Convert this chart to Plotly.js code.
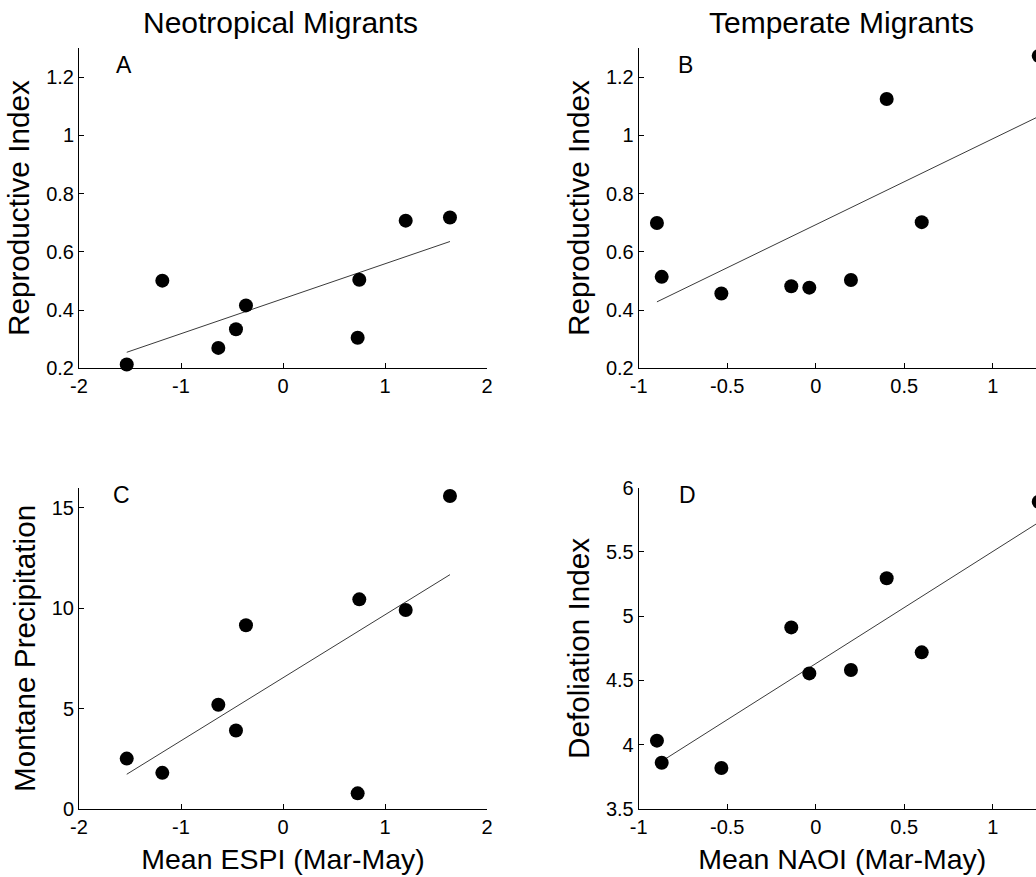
<!DOCTYPE html>
<html>
<head>
<meta charset="utf-8">
<script src="https://cdn.plot.ly/plotly-3.0.1.min.js"></script>
<style>
html,body{margin:0;padding:0;background:#fff;overflow:hidden;}
#wrap{width:1036px;height:877px;overflow:hidden;}
#plot{width:1060px;height:877px;}
</style>
</head>
<body>
<div id="wrap"><div id="plot"></div></div>
<script>
// ---- Data ----
const espi = [-1.532, -1.183, -0.634, -0.461, -0.363, 0.732, 0.748, 1.203, 1.637];
const neoRepro = [0.213, 0.501, 0.270, 0.334, 0.416, 0.305, 0.504, 0.707, 0.718];
const neoPrecip = [2.51, 1.80, 5.19, 3.91, 9.15, 0.78, 10.44, 9.91, 15.59];

const naoi = [-0.897, -0.870, -0.533, -0.138, -0.036, 0.199, 0.401, 0.599, 1.26];
const tempRepro = [0.699, 0.514, 0.457, 0.482, 0.477, 0.503, 1.125, 0.702, 1.273];
const defol = [4.032, 3.860, 3.819, 4.913, 4.555, 4.581, 5.295, 4.719, 5.891];

const espiTicks = [-2, -1, 0, 1, 2];
const espiTickText = ["-2", "-1", "0", "1", "2"];
const naoiTicks = [-1, -0.5, 0, 0.5, 1];
const naoiTickText = ["-1", "-0.5", "0", "0.5", "1"];
const reproTicks = [0.2, 0.4, 0.6, 0.8, 1, 1.2];
const reproTickText = ["0.2", "0.4", "0.6", "0.8", "1", "1.2"];
const precipTicks = [0, 5, 10, 15];
const precipTickText = ["0", "5", "10", "15"];
const defolTicks = [3.5, 4, 4.5, 5, 5.5, 6];
const defolTickText = ["3.5", "4", "4.5", "5", "5.5", "6"];

// ---- helpers ----
function fit(x, y) {
  const n = x.length;
  const mx = x.reduce((a, b) => a + b, 0) / n;
  const my = y.reduce((a, b) => a + b, 0) / n;
  let sxy = 0, sxx = 0;
  for (let i = 0; i < n; i++) { sxy += (x[i] - mx) * (y[i] - my); sxx += (x[i] - mx) ** 2; }
  const b = sxy / sxx, a = my - b * mx;
  const x0 = Math.min(...x), x1 = Math.max(...x);
  return { x: [x0, x1], y: [a + b * x0, a + b * x1] };
}
function pts(x, y, xa, ya) {
  return { x: x, y: y, xaxis: xa, yaxis: ya, type: 'scatter', mode: 'markers',
    marker: { color: '#000', size: 14, symbol: 'circle', line: { width: 0 } },
    cliponaxis: false, hoverinfo: 'skip', showlegend: false };
}
function line(x, y, xa, ya) {
  const f = fit(x, y);
  return { x: f.x, y: f.y, xaxis: xa, yaxis: ya, type: 'scatter', mode: 'lines',
    line: { color: '#3a3a3a', width: 1 }, hoverinfo: 'skip', showlegend: false };
}

const data = [
  line(espi, neoRepro, 'x', 'y'), pts(espi, neoRepro, 'x', 'y'),
  line(naoi, tempRepro, 'x2', 'y2'), pts(naoi, tempRepro, 'x2', 'y2'),
  line(espi, neoPrecip, 'x3', 'y3'), pts(espi, neoPrecip, 'x3', 'y3'),
  line(naoi, defol, 'x4', 'y4'), pts(naoi, defol, 'x4', 'y4')
];

const W = 1060, H = 877;
const FONT = 'Liberation Sans, Arial, Helvetica, sans-serif';
function ax(domain, range, tv, tt, anchor, title, tsize, standoff) {
  const o = {
    domain: domain, range: range, anchor: anchor,
    showline: true, linecolor: '#000', linewidth: 1, mirror: false,
    ticks: 'inside', ticklen: 5, tickwidth: 1, tickcolor: '#000',
    tickmode: 'array', tickvals: tv, ticktext: tt,
    showgrid: false, zeroline: false, fixedrange: true,
    tickfont: { family: FONT, size: 20, color: '#000' }
  };
  if (title) o.title = { text: title, font: { family: FONT, size: tsize, color: '#000' }, standoff: standoff };
  return o;
}
const xL = [79 / W, 487 / W];
const xR = [638.7 / W, 1045.8 / W];
const yT = [1 - 368.3 / H, 1 - 48 / H];
const yB = [1 - 809 / H, 1 - 487.7 / H];

const layout = {
  width: W, height: H,
  margin: { l: 0, r: 0, t: 0, b: 0 },
  paper_bgcolor: '#fff', plot_bgcolor: '#fff',
  font: { family: FONT, color: '#000' },
  showlegend: false,
  xaxis: ax(xL, [-2, 2], espiTicks, espiTickText, 'y', null),
  yaxis: ax(yT, [0.2, 1.3], reproTicks, reproTickText, 'x', 'Reproductive Index', 29.7, 7),
  xaxis2: ax(xR, [-1, 1.3], naoiTicks, naoiTickText, 'y2', null),
  yaxis2: ax(yT, [0.2, 1.3], reproTicks, reproTickText, 'x2', 'Reproductive Index', 29.7, 7),
  xaxis3: ax(xL, [-2, 2], espiTicks, espiTickText, 'y3', 'Mean ESPI (Mar-May)', 28.5, 12),
  yaxis3: ax(yB, [0, 16], precipTicks, precipTickText, 'x3', 'Montane Precipitation', 29.7, 7),
  xaxis4: ax(xR, [-1, 1.3], naoiTicks, naoiTickText, 'y4', 'Mean NAOI (Mar-May)', 28.5, 12),
  yaxis4: ax(yB, [3.5, 6], defolTicks, defolTickText, 'x4', 'Defoliation Index', 29.7, 7),
  annotations: [
    { text: 'Neotropical Migrants', xref: 'paper', yref: 'paper', x: 280 / W, y: 1 - 22 / H,
      xanchor: 'center', yanchor: 'middle', showarrow: false, font: { family: FONT, size: 30, color: '#000' } },
    { text: 'Temperate Migrants', xref: 'paper', yref: 'paper', x: 841 / W, y: 1 - 22 / H,
      xanchor: 'center', yanchor: 'middle', showarrow: false, font: { family: FONT, size: 30, color: '#000' } },
    { text: 'A', xref: 'x domain', yref: 'y domain', x: 0.110, y: 0.947, xanchor: 'center', yanchor: 'middle',
      showarrow: false, font: { family: FONT, size: 23, color: '#000' } },
    { text: 'B', xref: 'x2 domain', yref: 'y2 domain', x: 0.116, y: 0.947, xanchor: 'center', yanchor: 'middle',
      showarrow: false, font: { family: FONT, size: 23, color: '#000' } },
    { text: 'C', xref: 'x3 domain', yref: 'y3 domain', x: 0.105, y: 0.976, xanchor: 'center', yanchor: 'middle',
      showarrow: false, font: { family: FONT, size: 23, color: '#000' } },
    { text: 'D', xref: 'x4 domain', yref: 'y4 domain', x: 0.120, y: 0.977, xanchor: 'center', yanchor: 'middle',
      showarrow: false, font: { family: FONT, size: 23, color: '#000' } }
  ]
};

Plotly.newPlot('plot', data, layout, { displayModeBar: false, staticPlot: true });
</script>
</body>
</html>
